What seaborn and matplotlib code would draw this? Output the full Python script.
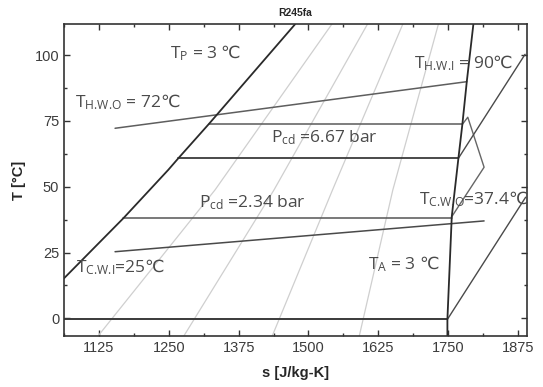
import numpy as np
import pandas as pd
import matplotlib
matplotlib.use("Agg")
import matplotlib.pyplot as plt
import seaborn as sns
from matplotlib.ticker import MultipleLocator

# ---------------- data ----------------
# saturated liquid line (s, T)
liq_s = [1062.3, 1168.5, 1249.0, 1267.0, 1322.0, 1476.0]
liq_T = [15.2, 38.0, 56.4, 60.8, 73.9, 111.7]
# saturated vapour line
vap_s = [1795.4, 1783.6, 1775.7, 1768.6, 1756.7, 1748.9, 1748.9]
vap_T = [111.7, 89.9, 73.7, 60.8, 38.6, -0.4, -6.6]
# cycle horizontals
h1_s = [1322.0, 1775.7]; h1_T = [73.7, 73.7]
h2_s = [1267.0, 1768.6]; h2_T = [60.8, 60.8]
h3_s = [1168.5, 1756.7]; h3_T = [38.0, 38.0]
h4_s = [1062.3, 1748.9]; h4_T = [-0.4, -0.4]
# expansion zig-zag
zz_s = [1775.7, 1785.4, 1814.6, 1756.7]
zz_T = [73.7, 76.4, 57.4, 38.6]
# superheat diagonals
d1_s = [1768.6, 1888.0]; d1_T = [60.8, 100.3]
d2_s = [1748.9, 1889.0]; d2_T = [-0.4, 46.0]
# water lines
hw_s = [1153.7, 1783.6]; hw_T = [72.2, 89.9]
cw_s = [1153.7, 1814.6]; cw_T = [25.3, 37.0]
# light grey background lines
gA_s = [1123.7, 1332.8, 1541.8]
gB_s = [1277.2, 1438.4, 1605.6]
gC_s = [1435.4, 1543.2, 1668.9]
gD_s = [1591.2, 1651.2, 1732.7]
g_T = [-6.6, 48.8, 111.7]

xticks = [1125, 1250, 1375, 1500, 1625, 1750, 1875]
yticks = [0, 25, 50, 75, 100]

# ---------------- style ----------------
sns.set_theme(style="ticks")
plt.rcParams['font.family'] = ['Open Sans', 'DejaVu Sans']
plt.rcParams['mathtext.fontset'] = 'custom'
plt.rcParams['mathtext.rm'] = 'Open Sans'
plt.rcParams['mathtext.it'] = 'Open Sans'
plt.rcParams['mathtext.sf'] = 'DejaVu Sans'

fig = plt.figure(figsize=(5.43, 3.87), dpi=100)
ax = fig.add_axes([0.1179, 0.1326, 0.9711 - 0.1179, 0.9372 - 0.1326])

def line(s, T, color, lw):
    df = pd.DataFrame({"s": s, "T": T})
    sns.lineplot(data=df, x="s", y="T", sort=False, estimator=None,
                 color=color, linewidth=lw, ax=ax, legend=False)

for gs in (gA_s, gB_s, gC_s, gD_s):
    line(gs, g_T, "#cfcfcf", 0.9)

line(hw_s, hw_T, "#5e5e5e", 1.1)
line(cw_s, cw_T, "#4a4a4a", 1.1)
line(h1_s, h1_T, "#5a5a5a", 1.1)
line(h2_s, h2_T, "#3a3a3a", 1.3)
line(h3_s, h3_T, "#555555", 1.1)
line(h4_s, h4_T, "#3a3a3a", 1.4)
line(zz_s, zz_T, "#666666", 1.0)
line(d1_s, d1_T, "#4a4a4a", 1.0)
line(d2_s, d2_T, "#4a4a4a", 1.0)
line(liq_s, liq_T, "#2a2a2a", 1.3)
line(vap_s, vap_T, "#2a2a2a", 1.3)

ax.set_xlim(1062.3, 1892.0)
ax.set_ylim(-6.6, 111.7)
ax.set_xticks(xticks)
ax.set_yticks(yticks)
ax.xaxis.set_minor_locator(MultipleLocator(62.5))
ax.yaxis.set_minor_locator(MultipleLocator(12.5))
ax.tick_params(which='both', direction='in', top=True, right=True,
               colors='#333333', labelcolor='#3c3c3c', labelsize=10.5)
ax.tick_params(which='major', length=4, width=1)
ax.tick_params(which='minor', length=2.5, width=1)
for sp in ax.spines.values():
    sp.set_color('#333333')
    sp.set_linewidth(1.2)

ax.set_xlabel("s [J/kg-K]", fontsize=10.5, fontweight='bold',
              family=['Liberation Sans', 'DejaVu Sans'], labelpad=8)
ax.set_ylabel("T [°C]", fontsize=10.5, fontweight='bold',
              family=['Liberation Sans', 'DejaVu Sans'], labelpad=6)
ax.set_title("R245fa", fontsize=7.5, fontweight='bold',
             family=['Liberation Sans', 'DejaVu Sans'], pad=6)
for lab in ax.get_xticklabels() + ax.get_yticklabels():
    lab.set_family(['Liberation Sans', 'DejaVu Sans'])

tc = "#4a4a4a"
fs = 12.5
fam = ['Open Sans', 'DejaVu Sans']
C = r"$\mathsf{℃}$"
texts = [
    (1252.0, 100.7, r"T$_{\mathrm{P}}$ = 3 " + C),
    (1082.0, 82.1, r"T$_{\text{H.W.O}}$ = 72" + C),
    (1432.5, 68.6, r"P$_{\mathrm{cd}}$ =6.67 bar"),
    (1304.7, 44.1, r"P$_{\mathrm{cd}}$ =2.34 bar"),
    (1689.2, 96.9, r"T$_{\text{H.W.I}}$ = 90" + C),
    (1698.7, 45.2, r"T$_{\text{C.W.O}}$=37.4" + C),
    (1083.8, 19.4, r"T$_{\text{C.W.I}}$=25" + C),
    (1607.3, 20.5, r"T$_{\mathrm{A}}$ = 3 " + C),
]
for x, y, t in texts:
    ax.text(x, y, t, fontsize=fs, color=tc, family=fam, ha='left', va='center')

fig.savefig("out.png", dpi=100)
